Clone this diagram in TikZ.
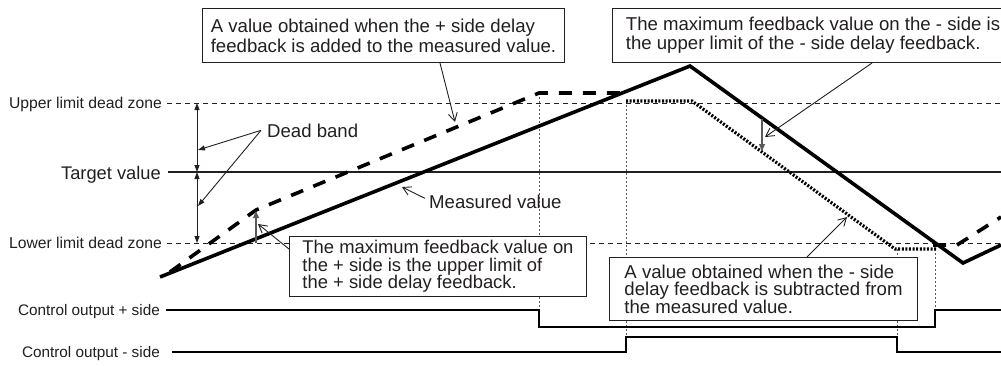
\documentclass[tikz,border=0pt]{standalone}
\usepackage{fontspec}
\setmainfont{Liberation Sans}
\usetikzlibrary{arrows.meta}
\definecolor{ink}{RGB}{35,31,32}
\definecolor{guidegray}{RGB}{90,90,90}
\begin{document}
\begin{tikzpicture}[x=1pt,y=-1pt,
  txt/.style={text=ink, inner sep=0pt},
  lbl/.style={txt, font=\fontsize{15.7}{18}\selectfont, anchor=base east},
  bigtxt/.style={txt, font=\fontsize{18.6}{20}\selectfont, anchor=base west},
  callout/.style={draw=ink, line width=1pt, fill=white, anchor=north west, align=left, inner sep=0pt, text=ink},
  refdash/.style={draw=ink, line width=1pt, dash pattern=on 5pt off 4pt},
  guide/.style={draw=guidegray, line width=0.9pt, dash pattern=on 2pt off 2pt},
  measured/.style={draw=black, line width=3.6pt, line join=miter},
  plusfb/.style={draw=black, line width=3.6pt, dash pattern=on 13pt off 11pt},
  minusfb/.style={draw=black, line width=3.2pt, dash pattern=on 2pt off 1.6pt},
  ctrl/.style={draw=black, line width=2pt},
  pointer/.style={draw=ink, line width=0.9pt, -{Straight Barb[length=8pt,width=9pt]}},
  pointf/.style={draw=ink, line width=0.9pt, -{Triangle[length=7pt,width=5pt]}},
  dim/.style={draw=ink, line width=1pt, {Triangle[length=7pt,width=5pt]}-{Triangle[length=7pt,width=5pt]}},
  fbarrow/.style={draw=guidegray, line width=1.2pt, -{Triangle[length=7pt,width=6pt]}},
]
\useasboundingbox (0,0) rectangle (1001,365);
\clip (0,0) rectangle (1001,365);

% axis labels
\node[lbl] (lupper) at (162,108.5) {Upper limit dead zone};
\node[lbl, font=\fontsize{18.3}{20}\selectfont] (ltarget) at (161,179) {Target value};
\node[lbl] (llower) at (162,248.5) {Lower limit dead zone};
\node[lbl, font=\fontsize{15.3}{18}\selectfont] (lplus) at (160,315.5) {Control output + side};
\node[lbl, font=\fontsize{15.3}{18}\selectfont] (lminus) at (160,357.5) {Control output - side};

% reference lines
\draw[refdash] (167,103) -- (1001,103);
\draw[draw=ink, line width=1.6pt] (168,172) -- (1001,172);
\draw[refdash] (167,243) -- (1001,243);

% guides
\draw[guide] (539,93) -- (539,310);
\draw[guide] (626,101) -- (626,337);
\draw[guide] (897,249) -- (897,337);
\draw[guide] (935,245) -- (935,310);

% control outputs
\draw[ctrl] (166,310) -- (539,310) -- (539,327) -- (935,327) -- (935,310) -- (1001,310);
\draw[ctrl] (172,352) -- (626,352) -- (626,337) -- (897,337) -- (897,352) -- (1001,352);

% feedback curves
\draw[plusfb] (170,272) -- (256,210) -- (539,93) -- (622,93);
\draw[plusfb] (933,245) -- (957,245) -- (1001,217);
\draw[minusfb] (626,101) -- (692,101) -- (895,249) -- (937,249);
\draw[measured] (160,277) -- (690,66) -- (963,263) -- (1001,245);

% dead band
\coordinate (dbtop) at (197,103);
\coordinate (dbmid) at (197,172);
\coordinate (dbbot) at (197,243);
\draw[dim] (dbtop) -- (dbmid);
\draw[dim] (dbmid) -- (dbbot);
\node[bigtxt] (deadband) at (267,137) {Dead band};
\coordinate (db1) at (198,150);
\coordinate (db2) at (198,206);
\draw[pointf] ([xshift=-6pt]deadband.west) -- (db1);
\draw[pointf] ([xshift=-6pt]deadband.west) -- (db2);

% feedback amount arrows
\coordinate (pf0) at (256,243);
\coordinate (pf1) at (256,211);
\draw[fbarrow] (pf0) -- (pf1);
\coordinate (mf0) at (762,119);
\coordinate (mf1) at (762,151);
\draw[fbarrow] (mf0) -- (mf1);

% measured value label
\node[bigtxt] (measlbl) at (429,208) {Measured value};
\coordinate (tm) at (402,187);
\draw[pointer] ([xshift=-4pt,yshift=3pt]measlbl.west) -- (tm);

% callouts
\node[callout, minimum width=362pt, minimum height=54pt, font=\fontsize{18.6}{20}\selectfont] (box1) at (202,8)
  {A value obtained when the + side delay\\feedback is added to the measured value.};
\node[callout, minimum width=401pt, minimum height=54pt, font=\fontsize{18.6}{19}\selectfont] (box2) at (612,8)
  {The maximum feedback value on the - side is\\the upper limit of the - side delay feedback.};
\node[callout, minimum width=297pt, minimum height=60pt, font=\fontsize{18.4}{17.5}\selectfont] (box3) at (289,236)
  {The maximum feedback value on\\the + side is the upper limit of\\the + side delay feedback.};
\node[callout, minimum width=308pt, minimum height=63pt, font=\fontsize{18.6}{17.5}\selectfont] (box4) at (609,257)
  {A value obtained when the - side\\delay feedback is subtracted from\\the measured value.};

\coordinate (t1) at (455,122);
\draw[pointer] ([xshift=238pt]box1.south west) -- (t1);
\coordinate (t2) at (765,137);
\draw[pointer] ([xshift=260pt]box2.south west) -- (t2);
\coordinate (t3) at (258,224);
\draw[pointer] ([yshift=-13pt]box3.north west) -- (t3);
\coordinate (t4) at (847,217);
\draw[pointer] ([xshift=198pt]box4.north west) -- (t4);
\end{tikzpicture}
\end{document}
